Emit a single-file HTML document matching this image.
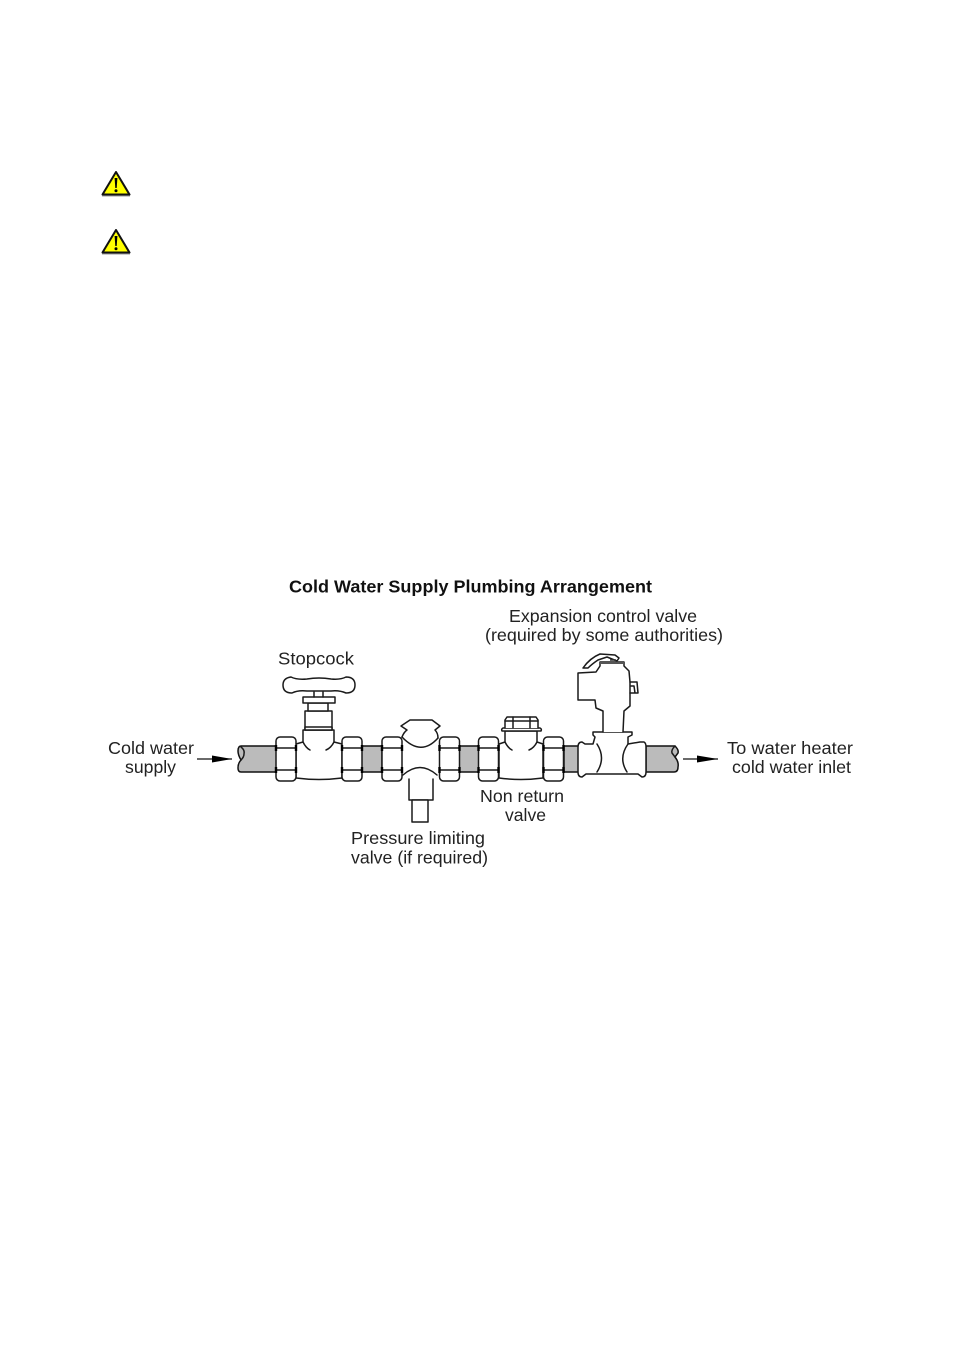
<!DOCTYPE html>
<html><head><meta charset="utf-8"><style>
html,body{margin:0;padding:0;background:#fff}
svg{display:block}
text{font-family:"Liberation Sans",sans-serif;font-size:17.5px;fill:#222}
.l{fill:none;stroke:#1a1a1a;stroke-width:1.500;stroke-linejoin:round;stroke-linecap:round}
.w{fill:#fff;stroke:#1a1a1a;stroke-width:1.500;stroke-linejoin:round;stroke-linecap:round}
</style></head><body>
<svg width="954" height="1351" viewBox="0 0 954 1351" xmlns="http://www.w3.org/2000/svg">
<defs>
<g id="warn">
<path d="M116 172L129.500 194.500H102.500Z" fill="#ffff00" stroke="#111" stroke-width="2" stroke-linejoin="round"/>
<path d="M114.600 178h2.800l-.7 10h-1.400Z" fill="#000"/><circle cx="116" cy="190.800" r="1.500" fill="#000"/>
<path d="M102 196H130" stroke="#999" stroke-width="1"/>
</g>
<g id="nut">
<rect x="0" y="0" width="20" height="44" rx="4" class="w"/>
<path d="M1 11H19M1 33H19" class="l"/>
<path d="M0 8v6M0 30v6M20 8v6M20 30v6" stroke="#000" stroke-width="2.400"/>
</g>
</defs>

<use href="#warn"/>
<use href="#warn" y="58"/>

<!-- pipes -->
<path d="M241 746H277V772H241Q238 772 238 768Q238 763 241 760Q238 755 238 751Q238 746 241 746Z" fill="#bbb" stroke="#111" stroke-width="1.500"/>
<path d="M241 747Q245 750 244 754Q244 757 241 760" class="l"/>
<rect x="361" y="746" width="21" height="26" fill="#bbb" stroke="#111" stroke-width="1.500"/>
<rect x="459" y="746" width="20" height="26" fill="#bbb" stroke="#111" stroke-width="1.500"/>
<rect x="564" y="746" width="15" height="26" fill="#bbb" stroke="#111" stroke-width="1.500"/>
<path d="M646 746H675Q679 750 678 753L675 757Q679 762 678 767Q678 772 674 772H646Z" fill="#bbb" stroke="#111" stroke-width="1.500"/>
<path d="M675 746Q671 750 672 753L675 757" class="l"/>

<!-- arrows -->
<path d="M197 759H232" stroke="#111" stroke-width="1.200"/>
<path d="M212 755.500L232 759L212 762.500Z" fill="#000"/>
<path d="M683 759H718" stroke="#111" stroke-width="1.200"/>
<path d="M697 755.500L718 759L697 762.500Z" fill="#000"/>

<!-- stopcock -->
<path d="M296 744L303 742V730H334V742L342 744V778Q319 781 296 778Z" class="w"/>
<path d="M303 742Q306 748 310 750M334 742Q331 748 326 750" class="l"/>
<rect x="305" y="711" width="27" height="19" class="w"/>
<rect x="305" y="727" width="27" height="3" class="w"/>
<rect x="308" y="703" width="20" height="8" class="w"/>
<rect x="303" y="697" width="32" height="6" class="w"/>
<path d="M314 697V692M323 697V692" class="l"/>
<path d="M291 677Q283 678 283 685Q283 693 292 693Q298 690 307 691H331Q339 690 346 693Q355 693 355 685Q355 677 346 677Q340 680 331 679Q319 677 307 679Q297 680 291 677Z" class="w"/>
<use href="#nut" x="276" y="737"/>
<use href="#nut" x="342" y="737"/>

<!-- pressure limiting valve -->
<rect x="402" y="740" width="38" height="38" fill="#fff"/>
<path d="M402 737Q404 732 407 730L401 726L410 720H432L440 726L435 730Q438 733 438 738" class="w"/>
<path d="M402 737Q421 757 438 738" class="l"/>
<path d="M403 775Q420 760 437 775" class="l"/>
<path d="M409 779V800H433V779" class="w" style="fill:#fff"/>
<rect x="412" y="800" width="16" height="22" class="w"/>
<use href="#nut" x="382" y="737"/>
<use href="#nut" x="439.500" y="737"/>

<!-- non return valve -->
<path d="M499 744L505 742V731H537V742L543 744V778Q521 781 499 778Z" class="w"/>
<path d="M505 742Q508 748 512 750M537 742Q534 748 529 750" class="l"/>
<path d="M502 731Q501 729 503 728H540Q542 729 541 731Z" class="w"/>
<path d="M505 728V720L507 717H536L538 720V728" class="w"/>
<path d="M513 717V728M530 717V728M505 721H538" class="l"/>
<use href="#nut" x="478.500" y="737"/>
<use href="#nut" x="543.500" y="737"/>

<!-- expansion control valve -->
<path d="M578 747Q578 742 582 742L585 744H593L595 737L593 735V732H632V735L628 737V744L640 742H644Q646 743 646 747V772Q646 777 642 777L638 774H586L582 777Q578 777 578 772Z" class="w"/>
<path d="M597 744Q606 758 597 772M628 744Q618 758 627 772" class="l"/>
<path d="M603 732V711L596 708L595 700H578V673L596 672L600 666V662H624V666L629 671L630 682V706L624 711L623 732" class="w"/>
<path d="M630 682H637L638 693H635L634 686H631M630 693H635" class="l"/>
<rect x="600" y="661" width="24" height="3" fill="#555"/>
<path d="M583 668Q590 658 600 654L615 655L619 658L617 661L607 657L598 660Q592 664 588 668Z" class="w"/>
<path d="M610 660H616" stroke="#333" stroke-width="1.500"/>

<!-- labels -->
<text x="289" y="592.500" textLength="363" lengthAdjust="spacingAndGlyphs" style="font-weight:bold;fill:#111">Cold Water Supply Plumbing Arrangement</text>
<text x="509" y="622" textLength="188" lengthAdjust="spacingAndGlyphs">Expansion control valve</text>
<text x="485" y="641" textLength="238" lengthAdjust="spacingAndGlyphs">(required by some authorities)</text>
<text x="278" y="664.500" textLength="76" lengthAdjust="spacingAndGlyphs">Stopcock</text>
<text x="108" y="754" textLength="86" lengthAdjust="spacingAndGlyphs">Cold water</text>
<text x="125" y="773" textLength="51" lengthAdjust="spacingAndGlyphs">supply</text>
<text x="727" y="754" textLength="126" lengthAdjust="spacingAndGlyphs">To water heater</text>
<text x="732" y="773" textLength="119" lengthAdjust="spacingAndGlyphs">cold water inlet</text>
<text x="480" y="802" textLength="84" lengthAdjust="spacingAndGlyphs">Non return</text>
<text x="505" y="821" textLength="41" lengthAdjust="spacingAndGlyphs">valve</text>
<text x="351" y="844" textLength="134" lengthAdjust="spacingAndGlyphs">Pressure limiting</text>
<text x="351" y="863.500" textLength="137" lengthAdjust="spacingAndGlyphs">valve (if required)</text>
</svg>
</body></html>
